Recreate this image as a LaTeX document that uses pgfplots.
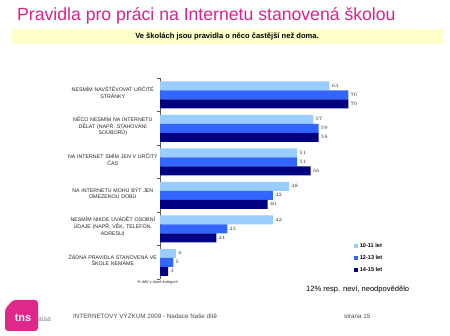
\documentclass[border=0pt]{standalone}
\usepackage{pgfplots}
\pgfplotsset{compat=1.18}
\usepackage{fontspec}
\setmainfont{Liberation Sans}
\definecolor{ttl}{RGB}{222,32,140}
\definecolor{band}{RGB}{255,255,204}
\definecolor{cA}{RGB}{153,204,255}
\definecolor{cB}{RGB}{51,102,255}
\definecolor{cC}{RGB}{0,0,128}
\definecolor{logo}{RGB}{222,40,140}
\begin{document}
\begin{tikzpicture}
\path[fill=white] (0,0) rectangle (450bp,336bp);
% title
\node[anchor=west,inner sep=0,text=ttl,font=\fontsize{17.7}{20}\selectfont] at (17bp,320bp) {Pravidla pro práci na Internetu stanovená školou};
\fill[band] (12bp,292bp) rectangle (443bp,307bp);
\node[inner sep=0,font=\fontsize{7.6}{9}\selectfont\bfseries] at (227bp,299.5bp) {Ve školách jsou pravidla o něco častější než doma.};
\begin{axis}[
  at={(160bp,57bp)}, anchor=south west,
  width=269bp, height=201bp, scale only axis,
  xbar, bar width=9bp,
  xmin=0, xmax=100,
  ymin=-0.5, ymax=5.5, y dir=reverse,
  axis x line=none,
  axis y line*=left,
  y axis line style={gray!70!black, line width=0.5pt},
  ytick={0,1,2,3,4,5},
  yticklabels={{NESMÍM NAVŠTĚVOVAT URČITÉ\\STRÁNKY},{NĚCO NESMÍM NA INTERNETU\\DĚLAT (NAPŘ. STAHOVÁNÍ\\SOUBORŮ)},{NA INTERNET SMÍM JEN V URČITÝ\\ČAS},{NA INTERNETU MOHU BÝT JEN\\OMEZENOU DOBU},{NESMÍM NIKDE UVÁDĚT OSOBNÍ\\ÚDAJE (NAPŘ. VĚK, TELEFON,\\ADRESU)},{ŽÁDNÁ PRAVIDLA STANOVENÁ VE\\ŠKOLE NEMÁME}},
  yticklabel style={align=center, text width=92bp, font=\fontsize{5.3}{6.6}\selectfont, text=black!85, inner sep=1bp, yshift=2bp},
  major tick length=0pt,
  minor ytick={-0.5,0.5,1.5,2.5,3.5,4.5,5.5},
  minor tick length=3bp, tick align=outside,
  minor tick style={gray!70!black},
  nodes near coords,
  every node near coord/.append style={font=\fontsize{4.6}{5}\selectfont, text=black!85, inner sep=2bp},
  legend style={at={(axis description cs:0.72,0.19)}, anchor=north west, draw=none, fill=none, font=\fontsize{5.6}{6}\selectfont\bfseries, row sep=2.5bp, inner sep=0pt, cells={anchor=west}},
  legend image code/.code={\fill[#1,draw=none] (0bp,-2bp) rectangle (4bp,2bp);},
  clip=false,
]
\addplot[fill=cA, draw=none, bar shift=9bp] coordinates {(63,0) (57,1) (51,2) (48,3) (42,4) (6,5)};
\addplot[fill=cB, draw=none, bar shift=0bp] coordinates {(70,0) (59,1) (51,2) (42,3) (25,4) (5,5)};
\addplot[fill=cC, draw=none, bar shift=-9bp] coordinates {(70,0) (59,1) (56,2) (40,3) (21,4) (3,5)};
\legend{10-11 let, 12-13 let, 14-15 let}
\end{axis}
\node[anchor=west,inner sep=0,font=\fontsize{4}{5}\selectfont\itshape,text=black!80] at (137bp,54bp) {\% dětí v dané kategorii};
\node[anchor=west,inner sep=0,font=\fontsize{7.6}{9}\selectfont] at (306bp,47bp) {12\% resp. neví, neodpovědělo};
% footer
\fill[logo,rounded corners=3bp] (13bp,36bp) -- (38bp,36bp) -- (38bp,5bp) -- (5bp,5bp) -- (5bp,27bp) -- cycle;
\node[inner sep=0,text=white,font=\fontsize{11}{12}\selectfont\bfseries] at (23bp,18bp) {tns};
\node[anchor=west,inner sep=0,text=black!50,font=\fontsize{7}{8}\selectfont] at (38bp,17bp) {aisa};
\node[anchor=west,inner sep=0,text=black!70,font=\fontsize{6.3}{8}\selectfont] at (73bp,20bp) {INTERNETOVÝ VÝZKUM 2009 - Nadace Naše dítě};
\node[anchor=west,inner sep=0,text=black!70,font=\fontsize{6.3}{8}\selectfont] at (344bp,20bp) {strana 15};
\end{tikzpicture}
\end{document}
